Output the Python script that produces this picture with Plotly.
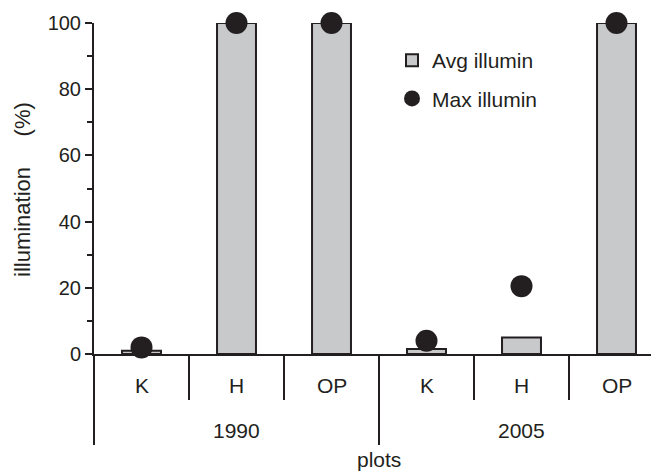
import plotly.graph_objects as go

# ---- data ----
years = ["1990", "2005"]
plots = ["K", "H", "OP", "K", "H", "OP"]
avg_illumin = [1, 100, 100, 1.5, 5, 100]
max_illumin = [2, 100, 100, 4, 20.5, 100]
y_ticks = [0, 20, 40, 60, 80, 100]

DARK = "#231f20"
BAR = "#c8c9cb"
FONT = "Liberation Sans, Arial, sans-serif"
FS = 21

# page body has an 8px margin, so the figure is 8px smaller and shifted
W, H = 651, 463
L, R, T, B = 86, 0, 15, 117
plot_w = W - L - R
plot_h = H - T - B
cat_px = 95.0  # pixel width of one category

xpos = [i + 0.5 for i in range(len(plots))]

fig = go.Figure()
fig.add_trace(go.Bar(
    x=xpos, y=avg_illumin, name="Avg illumin", width=0.41,
    marker=dict(color=BAR, line=dict(color=DARK, width=2)),
    legendgroup="a",
))
fig.add_trace(go.Scatter(
    x=xpos, y=max_illumin, name="Max illumin", mode="markers",
    marker=dict(color=DARK, size=22, line=dict(width=0)),
    cliponaxis=False, legendgroup="b",
))

def py(px_below):
    # paper y for a pixel offset below the plot bottom
    return -px_below / plot_h

shapes = []
shapes.append(dict(type="line", xref="paper", yref="paper", x0=0, x1=0,
                   y0=0, y1=py(91), line=dict(color=DARK, width=2)))
n = len(plots)
per_group = n // len(years)
for i in range(1, n + 1):
    long = (i % per_group == 0)
    shapes.append(dict(type="line", xref="x", yref="paper", x0=i, x1=i,
                       y0=0, y1=py(91 if long else 46),
                       line=dict(color=DARK, width=2)))

ann = []
for xp, lab in zip(xpos, plots):
    ann.append(dict(x=xp, y=py(31), xref="x", yref="paper", text=lab,
                    showarrow=False, yanchor="middle",
                    font=dict(size=FS, color=DARK, family=FONT)))
for g, yr in enumerate(years):
    ann.append(dict(x=g * per_group + per_group / 2, y=py(76), xref="x", yref="paper",
                    text=yr, showarrow=False, yanchor="middle",
                    font=dict(size=FS, color=DARK, family=FONT)))
ann.append(dict(x=3, y=py(105), xref="x", yref="paper", text="plots",
                showarrow=False, yanchor="middle",
                font=dict(size=FS, color=DARK, family=FONT)))
ann.append(dict(x=-72 / plot_w, y=(331 - 167) / plot_h,
                xref="paper", yref="paper",
                text="illumination" + "\u00a0" * 5 + "(%)",
                textangle=-90, showarrow=False, xanchor="center", yanchor="middle",
                font=dict(size=22, color=DARK, family=FONT)))

fig.update_layout(
    width=W, height=H,
    margin=dict(l=L, r=R, t=T, b=B, pad=0),
    paper_bgcolor="white", plot_bgcolor="white",
    font=dict(family=FONT, size=FS, color=DARK),
    showlegend=True,
    legend=dict(x=(384 - L) / plot_w, y=(plot_h - (32 - T)) / plot_h, xanchor="left", yanchor="top",
                bgcolor="rgba(0,0,0,0)", font=dict(size=FS, color=DARK, family=FONT),
                traceorder="grouped", tracegroupgap=8, itemwidth=30),
    xaxis=dict(range=[0, plot_w / cat_px], showline=True, linecolor=DARK, linewidth=2,
               showgrid=False, zeroline=False, ticks="", showticklabels=False, fixedrange=True),
    yaxis=dict(range=[0, 100], tickvals=y_ticks, showline=True, linecolor=DARK, linewidth=2,
               showgrid=False, zeroline=False, ticks="outside", ticklen=7, tickwidth=2,
               tickcolor=DARK, tickfont=dict(size=20, color=DARK, family=FONT),
               minor=dict(dtick=10, ticks="outside", ticklen=5, tickwidth=2, tickcolor=DARK)),
    shapes=shapes, annotations=ann,
)

fig.write_html("out.html")
